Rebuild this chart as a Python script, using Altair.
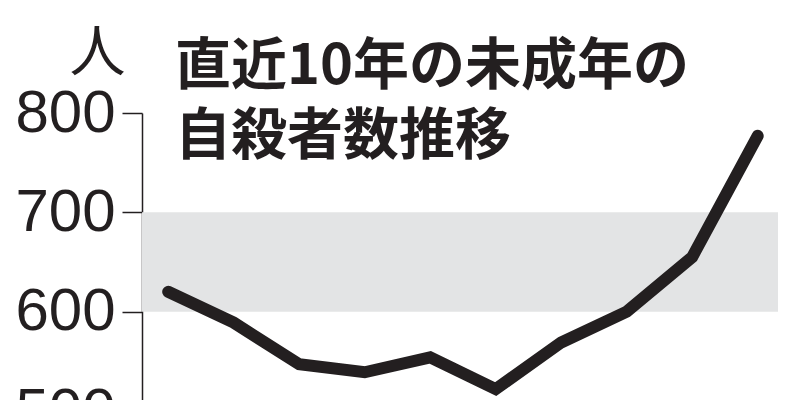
import altair as alt
import pandas as pd

years = [2013, 2014, 2015, 2016, 2017, 2018, 2019, 2020, 2021, 2022]
suicides = [620, 589, 547, 539, 554, 522, 569, 600, 655, 777]
y_ticks = [500, 600, 700, 800]
band = {"low": [600], "high": [700]}
title_lines = ["直近10年の未成年の", "自殺者数推移"]
unit_label = "人"

W, H = 636, 298
INK = "#231f20"

df = pd.DataFrame({"year": years, "n": suicides})
band_df = pd.DataFrame(band)

x_scale = alt.Scale(domain=[2012.6, 2022.31], nice=False, zero=False)
y_scale = alt.Scale(domain=[500, 800], nice=False, zero=False)

y_axis = alt.Axis(
    values=y_ticks,
    grid=False,
    labelFont="Liberation Sans",
    labelFontSize=60,
    labelColor=INK,
    labelPadding=7,
    labelBaseline="middle",
    tickSize=20,
    tickWidth=1.5,
    tickColor=INK,
    domainColor=INK,
    domainWidth=1.5,
    title=unit_label,
    titleAngle=0,
    titleFont="Noto Sans CJK JP",
    titleFontSize=56,
    titleFontWeight="normal",
    titleColor=INK,
    titleX=-45,
    titleY=-43,
    titleAlign="center",
    titleBaseline="alphabetic",
)

bg = alt.Chart(band_df).mark_rect(color="#e3e4e5").encode(
    x=alt.value(0),
    x2=alt.value(W),
    y=alt.Y("low:Q", scale=y_scale, axis=y_axis),
    y2="high:Q",
)

line = alt.Chart(df).mark_line(
    color=INK, strokeWidth=12, strokeCap="round", strokeJoin="miter"
).encode(
    x=alt.X("year:Q", scale=x_scale, axis=None),
    y=alt.Y("n:Q", scale=y_scale, axis=y_axis),
)

title = alt.Chart(pd.DataFrame({"t": [0]})).mark_text(
    text=title_lines,
    font="Noto Sans CJK JP",
    fontSize=56,
    fontWeight="bold",
    color=INK,
    align="left",
    baseline="alphabetic",
    lineHeight=70,
).encode(x=alt.value(33), y=alt.value(-29))

chart = (
    alt.layer(bg, line, title)
    .properties(
        width=W,
        height=H,
        autosize="none",
        padding={"left": 134, "top": 105, "right": 14, "bottom": 0},
        background="white",
    )
    .configure_view(stroke=None)
)

chart.save("out.html", embed_options={"renderer": "svg", "actions": False})
